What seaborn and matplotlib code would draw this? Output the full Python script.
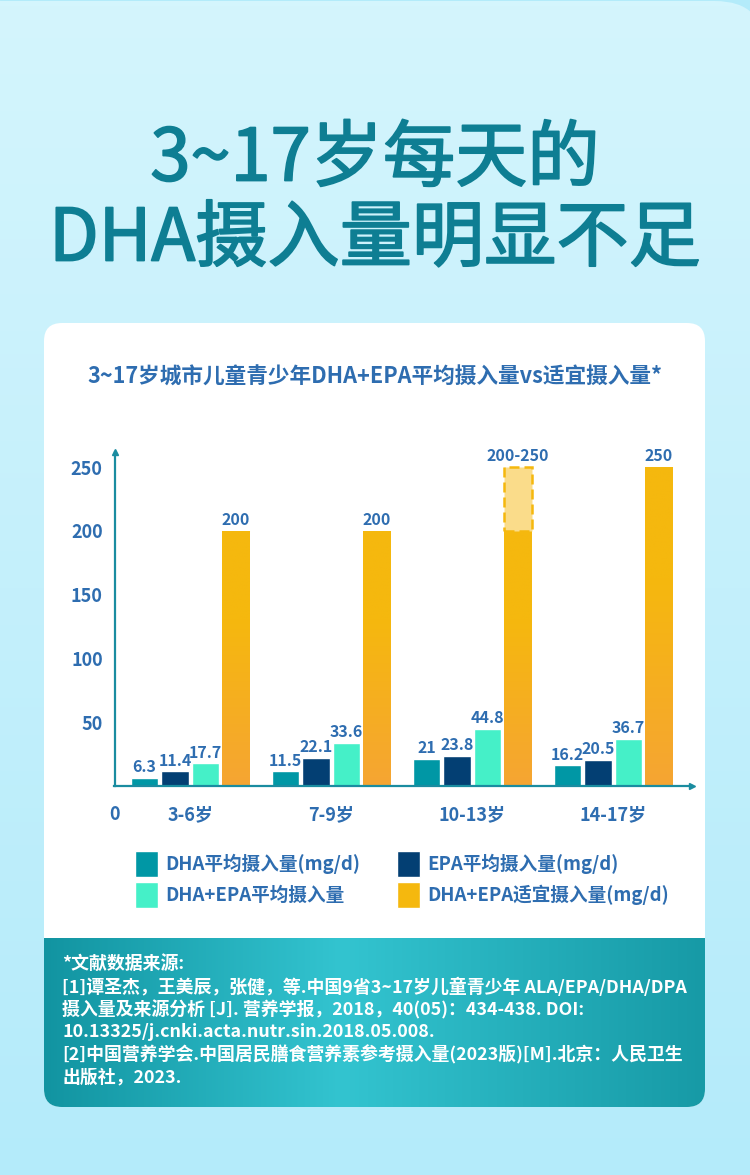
import matplotlib.patheffects as pe
import matplotlib.pyplot as plt
import numpy as np
import pandas as pd
import seaborn as sns
from matplotlib.colors import to_rgb
from matplotlib.patches import FancyBboxPatch

# data
age_groups = ["3-6岁", "7-9岁", "10-13岁", "14-17岁"]
series_names = ["DHA平均摄入量(mg/d)", "EPA平均摄入量(mg/d)",
                "DHA+EPA平均摄入量", "DHA+EPA适宜摄入量(mg/d)"]
dha_avg = [6.3, 11.5, 21, 16.2]
epa_avg = [11.4, 22.1, 23.8, 20.5]
dha_epa_avg = [17.7, 33.6, 44.8, 36.7]
dha_epa_rec = [200, 200, 200, 250]
dha_epa_rec_upper = [None, None, 250, None]
rec_labels = ["200", "200", "200-250", "250"]
y_ticks = [50, 100, 150, 200, 250]

title_lines = ["3~17岁每天的", "DHA摄入量明显不足"]
chart_title = "3~17岁城市儿童青少年DHA+EPA平均摄入量vs适宜摄入量*"
source_lines = [
    "*文献数据来源:",
    "[1]谭圣杰，王美辰，张健，等.中国9省3~17岁儿童青少年 ALA/EPA/DHA/DPA",
    "摄入量及来源分析 [J]. 营养学报，2018，40(05)：434-438. DOI:",
    "10.13325/j.cnki.acta.nutr.sin.2018.05.008.",
    "[2]中国营养学会.中国居民膳食营养素参考摄入量(2023版)[M].北京：人民卫生",
    "出版社，2023.",
]

palette = dict(zip(series_names, ["#0097a5", "#033f73", "#45f0c8", "#f5b80e"]))
blue = "#2e6db0"
teal_title = "#0e7e93"
cjk = ["Noto Sans CJK SC", "DejaVu Sans"]

df = pd.DataFrame({
    "age": np.repeat(age_groups, 4),
    "series": series_names * 4,
    "value": np.ravel(np.column_stack([dha_avg, epa_avg, dha_epa_avg, dha_epa_rec])),
})

sns.set_theme(style="white")
plt.rcParams["font.family"] = cjk

W, H = 750, 1175
fig = plt.figure(figsize=(W / 100, H / 100), dpi=100)

# background in pixel coordinates
bg = fig.add_axes([0, 0, 1, 1])
bg.add_patch(plt.Rectangle((0, 0), W, H, color="#b3ebfa", zorder=0))
panel = FancyBboxPatch((-60, 1), W + 15 + 60, H + 60, boxstyle="round,pad=0,rounding_size=50",
                       fc="none", ec="none", zorder=1)
bg.add_patch(panel)
top_c, bot_c = np.array(to_rgb("#d4f5fd")), np.array(to_rgb("#b4ebfa"))
t = np.linspace(0, 1, 256)[:, None, None]
grad = top_c * (1 - t) + bot_c * t
im = bg.imshow(grad, extent=(-60, W + 15, H, 1), aspect="auto", zorder=1)
im.set_clip_path(panel)

card = FancyBboxPatch((44, 323), 661, 784, boxstyle="round,pad=0,rounding_size=18",
                      fc="white", ec="none", zorder=2)
bg.add_patch(card)
xs = np.linspace(0, 1, 400)
c_left, c_mid, c_right = [np.array(to_rgb(c)) for c in ("#1294a1", "#33c4d0", "#179aa6")]
row = np.where(xs[:, None] < 0.45,
               c_left + (c_mid - c_left) * (xs[:, None] / 0.45),
               c_mid + (c_right - c_mid) * ((xs[:, None] - 0.45) / 0.55))
teal_img = np.repeat(row[None, :, :], 40, axis=0)
im2 = bg.imshow(teal_img, extent=(44, 705, 1107, 938), aspect="auto", zorder=3)
im2.set_clip_path(card)
bg.set_xlim(0, W)
bg.set_ylim(H, 0)
bg.axis("off")

thick = [pe.withStroke(linewidth=1.3, foreground=teal_title)]
bg.text(W / 2, 160, title_lines[0], ha="center", va="center", fontsize=52,
        color=teal_title, path_effects=thick, zorder=5)
bg.text(W / 2, 240, title_lines[1], ha="center", va="center", fontsize=52,
        color=teal_title, path_effects=thick, zorder=5)
bg.text(375, 377, chart_title, ha="center", va="center", fontsize=15.6,
        color=blue, fontweight="bold", zorder=5)
for i, line in enumerate(source_lines):
    bg.text(62, 965 + i * 22.4, line, ha="left", va="center", fontsize=12.9,
            color="white", fontweight="bold", zorder=5)

# chart
ax = fig.add_axes([114.5 / W, 1 - 786 / H, (692 - 114.5) / W, (786 - 452) / H])
ax.patch.set_alpha(0)
sns.barplot(data=df, x="age", y="value", hue="series", order=age_groups,
            hue_order=series_names, palette=palette, width=0.865, gap=0.1,
            saturation=1, legend=True, ax=ax, zorder=3)

for cont in ax.containers[:3]:
    ax.bar_label(cont, labels=[f"{v:g}" for v in cont.datavalues], padding=2,
                 fontsize=11.5, color=blue, fontweight="bold")

# orange bars: gradient fill, dashed range, labels
orange_top = np.array(to_rgb("#f5b80e"))
orange_bot = np.array(to_rgb("#f6a533"))
tt = np.linspace(0, 1, 200)
w = np.clip((tt - 0.35) / 0.65, 0, 1)[:, None, None]
og = orange_top * (1 - w) + orange_bot * w
for bar, upper, lab in zip(ax.containers[3], dha_epa_rec_upper, rec_labels):
    x0, wd, h = bar.get_x(), bar.get_width(), bar.get_height()
    gim = ax.imshow(og, extent=(x0, x0 + wd, 0, h), aspect="auto", zorder=4)
    gim.set_clip_path(bar)
    top = h
    if upper is not None:
        ax.bar(x0 + wd / 2, upper - h, width=wd, bottom=h, color="#fadc8a",
               edgecolor="#f5b80e", linestyle=(0, (4, 2)), linewidth=1.8, zorder=4)
        top = upper
    ax.annotate(lab, (x0 + wd / 2, top), xytext=(0, 2), textcoords="offset points",
                ha="center", va="bottom", fontsize=11.5, color=blue, fontweight="bold")
ax.set_xlim(-0.5376, 3.558)
ax.set_ylim(0, 261.8)

sns.despine(ax=ax)
for s in ("left", "bottom"):
    ax.spines[s].set_color("#1a8ca0")
    ax.spines[s].set_linewidth(1.6)
    ax.spines[s].set_zorder(6)
ax.plot(0, 1, marker="^", color="#1a8ca0", markersize=5, transform=ax.transAxes, clip_on=False)
ax.plot(1, 0, marker=">", color="#1a8ca0", markersize=5, transform=ax.transAxes, clip_on=False)

ax.set_yticks(y_ticks)
ax.set_yticklabels([str(v) for v in y_ticks], fontsize=13, color=blue, fontweight="bold")
ax.tick_params(axis="y", length=0, pad=8.5)
ax.tick_params(axis="x", length=0, pad=14, labelsize=13, labelcolor=blue)
for lbl in ax.get_xticklabels():
    lbl.set_fontweight("bold")
ax.annotate("0", (0, 0), xycoords="axes fraction", xytext=(0, -14), textcoords="offset points",
            ha="center", va="top", fontsize=13, color=blue, fontweight="bold")
ax.set_xlabel("")
ax.set_ylabel("")

# legend filled row by row
handles, labels = ax.get_legend_handles_labels()
order = [0, 2, 1, 3]
ax.legend([handles[i] for i in order], [labels[i] for i in order], ncols=2, frameon=False,
          loc="upper left", bbox_to_anchor=(135 / W, 1 - 851 / H), bbox_transform=fig.transFigure,
          borderpad=0, borderaxespad=0, handlelength=1.24, handleheight=1.78,
          handletextpad=0.38, columnspacing=2.0, labelspacing=0.27, labelcolor=blue,
          prop={"size": 13.4, "weight": "bold", "family": cjk})

fig.savefig("out.png", dpi=100)
